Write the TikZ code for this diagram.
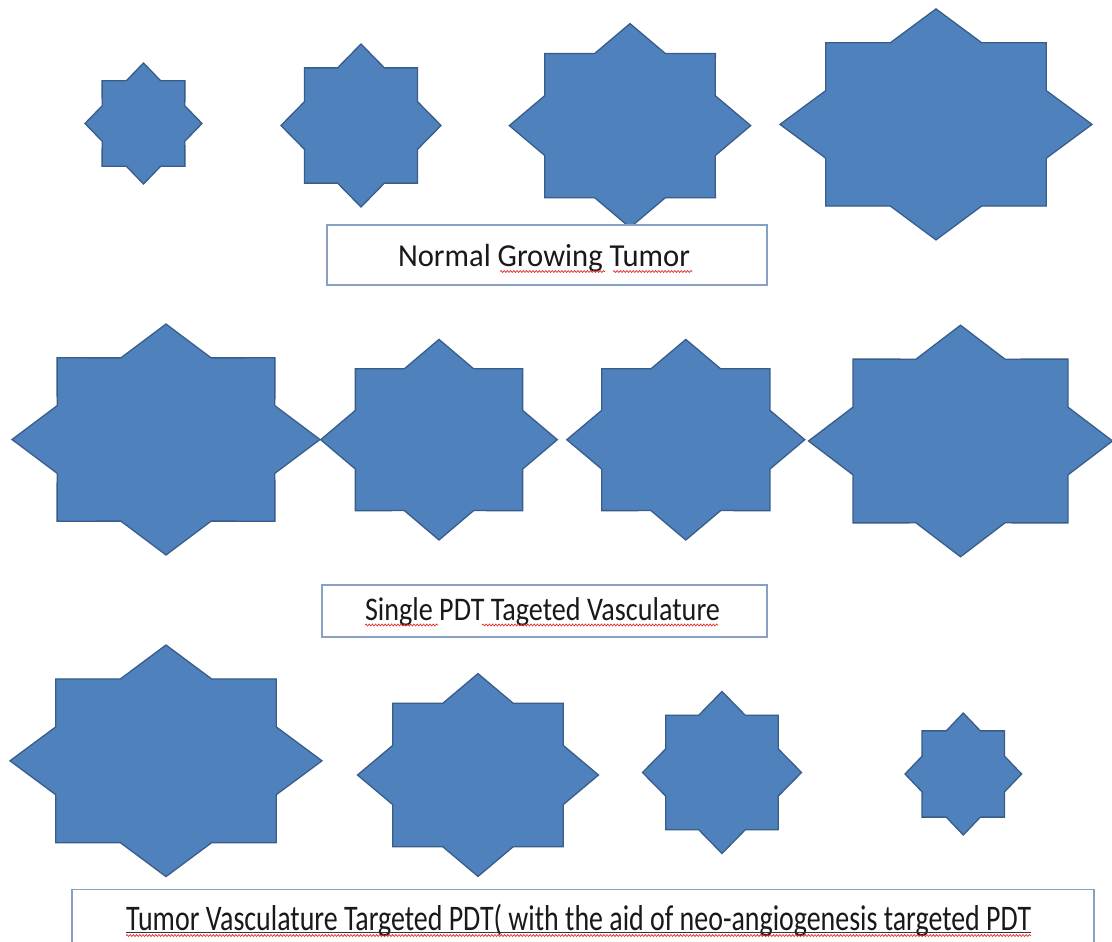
\documentclass[tikz,border=0pt]{standalone}
\usepackage{fontspec}
\setmainfont{Carlito}
\usetikzlibrary{decorations.pathmorphing}
\definecolor{starfill}{RGB}{79,129,189}
\definecolor{starline}{RGB}{56,93,138}
\definecolor{boxline}{RGB}{135,160,195}
\definecolor{squig}{RGB}{225,45,45}
\definecolor{ulinedark}{RGB}{70,45,40}
\newlength\txtw
\newcommand\fitw[2]{\settowidth\txtw{#2}\edef\sfac{\fpeval{#1/\txtw}}\scalebox{\sfac}[1]{#2}}
\tikzset{
  tstar/.style={fill=starfill, draw=starline, line width=1.3pt, line join=miter},
  tbox/.style={draw=boxline, line width=1.6pt, fill=white},
  squiggle/.style={draw=squig, line width=0.7pt, decorate, decoration={snake, segment length=3.2pt, amplitude=1pt}},
  uline/.style={draw=ulinedark, line width=1.8pt},
  lbl/.style={anchor=base, inner sep=0pt, text=black!90},
}
% name, cx, cy, a, b
\newcommand\tstar[5]{%
  \draw[tstar] (#2+#4,#3) \foreach \k in {1,...,15}{ -- ({#2+(0.8825+0.1175*cos(180*\k))*#4*cos(22.5*\k)},{#3+(0.8825+0.1175*cos(180*\k))*#5*sin(22.5*\k)}) } -- cycle;
  \coordinate (#1) at (#2,#3);
}
\begin{document}
\begin{tikzpicture}[x=1pt,y=-1pt]
\useasboundingbox[fill=white] (0,0) rectangle (1112,942);
% row 1: normal growing tumor
\tstar{ra}{143.5}{123.5}{58.5}{60.5}
\tstar{rb}{361}{125.5}{80}{81.5}
\tstar{rc}{630}{125.6}{120.7}{102}
\tstar{rd}{936}{124.4}{156}{115.5}
% row 2: single PDT
\tstar{sa}{166}{439.5}{154}{115.5}
\tstar{sb}{439}{439.7}{118.3}{100.3}
\tstar{sc}{685.8}{439.7}{119}{100.3}
\tstar{sd}{960.5}{441}{152}{115.8}
% row 3: vasculature targeted PDT
\tstar{ta}{166}{760.8}{156}{115.8}
\tstar{tb}{478}{775}{120.5}{101.4}
\tstar{tc}{722}{772.5}{79.5}{81}
\tstar{td}{963.3}{774}{58.3}{61}
% text boxes
\node[tbox, minimum width=440pt, minimum height=60pt, inner sep=0pt] (box1) at (547,255) {};
\node[lbl] (t1) at (544,266.5) {\fontsize{32}{38}\selectfont\fitw{292pt}{Normal Growing Tumor}};
\draw[squiggle] (500,271.5) -- (605,271.5);
\draw[squiggle] (613,271.5) -- (692,271.5);

\node[tbox, minimum width=445pt, minimum height=51.7pt, inner sep=0pt] (box2) at (544.2,610.85) {};
\node[lbl] (t2) at (542.5,620) {\fontsize{33}{39}\selectfont\fitw{355pt}{Single PDT Tageted Vasculature}};
\draw[squiggle] (365,625) -- (438,625);
\draw[squiggle] (482,625) -- (718,625);

\node[tbox, minimum width=1022.3pt, minimum height=56pt, inner sep=0pt] (box3) at (582.85,917.3) {};
\node[lbl] (t3) at (578.7,930) {\fontsize{36}{42}\selectfont\fitw{905pt}{Tumor Vasculature Targeted PDT( with the aid of neo-angiogenesis targeted PDT}};
\draw[uline] (126,932.5) -- (1031,932.5);
\draw[squiggle] (126,935.5) -- (1031,935.5);
\end{tikzpicture}
\end{document}
